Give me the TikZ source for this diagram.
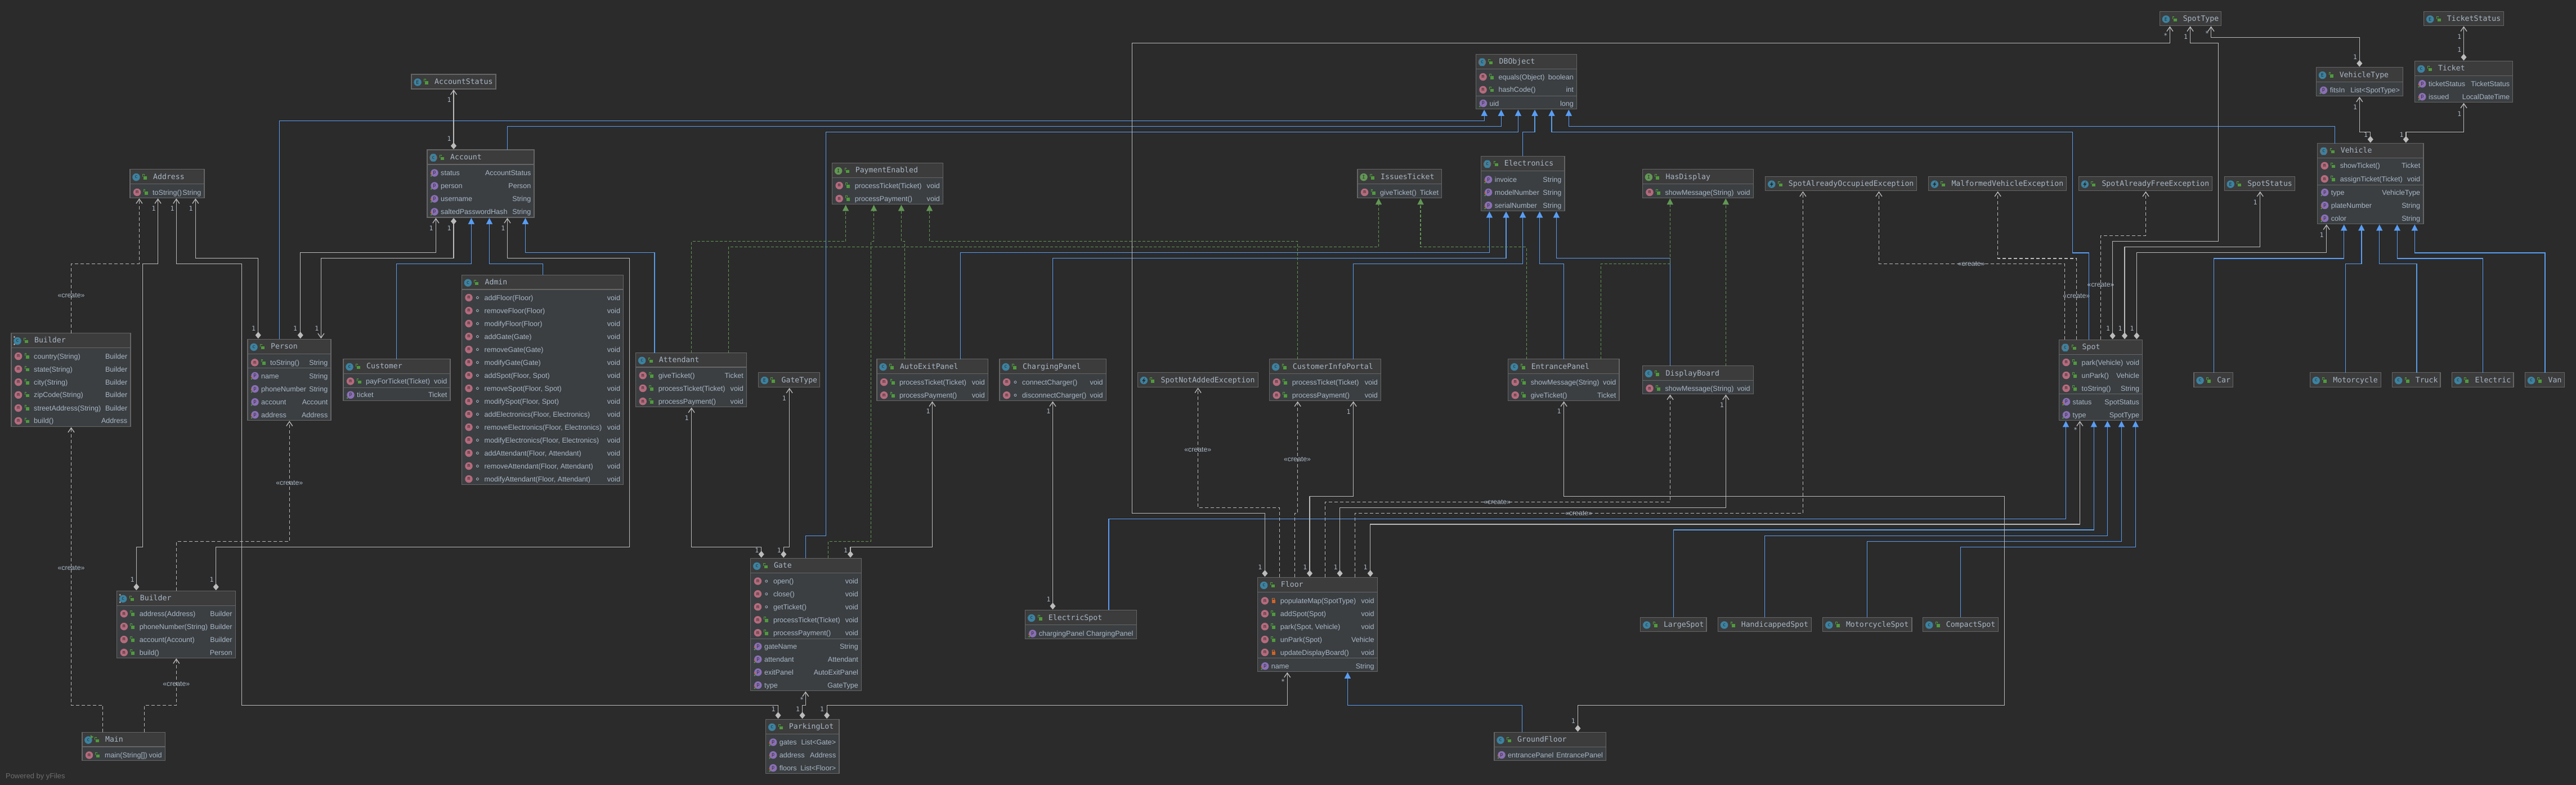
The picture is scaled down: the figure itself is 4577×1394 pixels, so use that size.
\documentclass[tikz,border=0pt]{standalone}
\usepackage{fontspec}
\setmainfont{Liberation Sans}
\setmonofont{DejaVu Sans Mono}
\usetikzlibrary{arrows.meta}
\definecolor{fond}{HTML}{2B2B2B}
\definecolor{entete}{HTML}{3C3C3C}
\definecolor{corps}{HTML}{3B3F42}
\definecolor{bord}{HTML}{666666}
\definecolor{texte}{HTML}{A9B7C6}
\definecolor{clair}{HTML}{BBBBBB}
\definecolor{bleu}{HTML}{589DF6}
\definecolor{vert}{HTML}{629755}
\definecolor{vertc}{HTML}{4F9A3C}
\definecolor{orange}{HTML}{D0642A}
\definecolor{teal}{HTML}{3C82A0}
\definecolor{rose}{HTML}{B56B7D}
\definecolor{violet}{HTML}{8A6FB5}
\definecolor{gris}{HTML}{6E6E6E}
\newcount\nbNoeud

\begin{document}
\begin{tikzpicture}[x=1pt,y=-1pt]
    % Styles
    \tikzstyle{classe}=[draw=bord,line width=1.2pt,fill=corps,rectangle,inner sep=0pt,outer sep=0pt,anchor=north west]
    \tikzstyle{titre}=[text=texte,font=\ttfamily\fontsize{13.2}{13.2}\selectfont,inner sep=0pt,anchor=base west]
    \tikzstyle{membre}=[text=texte,font=\fontsize{12.6}{12.6}\selectfont,inner sep=0pt,anchor=base west]
    \tikzstyle{genre}=[text=texte,font=\fontsize{12.6}{12.6}\selectfont,inner sep=0pt,anchor=base east]
    \tikzstyle{icone}=[circle,inner sep=0pt,minimum size=13.5pt,text=fond,font=\ttfamily\fontsize{8.5}{8.5}\selectfont]
    \tikzstyle{mult}=[text=texte,font=\ttfamily\fontsize{11.5}{11.5}\selectfont,inner sep=0pt]
    \tikzstyle{cree}=[text=texte,font=\fontsize{12.3}{12.3}\selectfont,inner sep=0pt]
    \tikzstyle{signature}=[text=gris,font=\fontsize{12.9}{12.9}\selectfont,inner sep=0pt,anchor=base west]
    \tikzstyle{heritage}=[-{Triangle[length=11pt,width=11pt]},draw=bleu,line width=1.4pt,shorten >=1pt]
    \tikzstyle{realise}=[-{Triangle[length=11pt,width=11pt]},draw=vert,line width=1.3pt,shorten >=1pt,dash pattern=on 5pt off 3pt]
    \tikzstyle{depend}=[-{Straight Barb[length=8pt,width=11pt]},draw=clair,line width=1.3pt,shorten >=1pt,dash pattern=on 6pt off 4pt]
    \tikzstyle{compose}=[{Diamond[length=12pt,width=10pt]}-{Straight Barb[length=8pt,width=11pt]},draw=clair,line width=1.3pt,shorten >=1pt,shorten <=1pt]
    % Macros
    \def\suivant{\global\advance\nbNoeud by 1 }
    \def\iconeC#1#2{\suivant\node[icone,fill=teal] (i\the\nbNoeud) at (#1,#2) {c};}
    \def\iconeA#1#2{\suivant\node[icone,fill=gris] (i\the\nbNoeud) at (#1,#2) {};
        \fill[teal,rounded corners=2pt] (#1-4.5,#2-6.7) rectangle (#1+4.5,#2+6.7);
        \suivant\node[icone,minimum size=0pt] (i\the\nbNoeud) at (#1,#2) {c};}
    \def\iconeE#1#2{\suivant\node[icone,fill=teal] (i\the\nbNoeud) at (#1,#2) {E};}
    \def\iconeI#1#2{\suivant\node[icone,fill=vert] (i\the\nbNoeud) at (#1,#2) {I};}
    \def\iconeX#1#2{\suivant\node[icone,fill=teal] (i\the\nbNoeud) at (#1,#2) {};
        \fill[fond] (#1+1.5,#2-5) -- (#1-3.2,#2+1) -- (#1-.4,#2+1) -- (#1-1.5,#2+5) -- (#1+3.2,#2-1) -- (#1+.4,#2-1) -- cycle;}
    \def\iconeB#1#2{\iconeC{#1}{#2}
        \fill[clair] (#1-5.5,#2-7) circle (1.5) (#1-5.5,#2+6) circle (1.5);}
    \def\iconeM#1#2{\iconeC{#1}{#2}
        \fill[vertc] (#1+4,#2-9) -- (#1+9,#2-5.5) -- (#1+4,#2-2) -- cycle;}
    \def\pub#1#2{\draw[vertc,line width=1pt] (#1-4,#2-.5) -- (#1-4,#2-5) -- (#1-1.2,#2-5) -- (#1-1.2,#2-3);
        \fill[vertc] (#1-2.5,#2-1.5) rectangle (#1+3.5,#2+4);}
    \def\pac#1#2{\draw[texte,line width=.8pt] (#1,#2) circle (2);}
    \def\pri#1#2{\draw[orange,line width=1pt] (#1-2,#2-1) -- (#1-2,#2-4.5) -- (#1+2,#2-4.5) -- (#1+2,#2-1);
        \fill[orange] (#1-3.2,#2-1.5) rectangle (#1+3.2,#2+4.5);}
    \def\og#1#2{\fill[orange] (#1-6,#2+1.5) circle (1.5);\fill[vertc] (#1-6,#2+5.5) circle (1.5);}
    \def\g#1#2{\fill[vertc] (#1-6,#2+5.5) circle (1.5);}
    % nom, icone, gauche, haut, droite, bas, bas de l'entete, titre
    \def\classe#1#2#3#4#5#6#7#8{%
        \xdef\gL{#3}\xdef\gR{#5}%
        \pgfmathsetmacro\cy{(#4+#7)/2+1}%
        \node[classe,minimum width={(#5-#3)*1pt},minimum height={(#6-#4)*1pt}] (#1) at (#3,#4) {};
        \fill[entete] (#3+.5,#4+.5) rectangle (#5-.5,#7);
        \draw[bord,line width=1.2pt] (#3,#7) -- (#5,#7);
        \draw[bord,line width=1.2pt] (#1.north west) rectangle (#1.south east);
        \csname icone#2\endcsname{#3+11}{\cy}
        \pub{#3+26.5}{\cy}
        \suivant\node[titre] (t\the\nbNoeud) at (#3+41,\cy+3.5) {#8};}
    \def\sep#1{\draw[bord,line width=1.2pt] (\gL,#1) -- (\gR,#1);}
    \def\meth#1#2#3#4{%
        \suivant\node[icone,fill=rose] (i\the\nbNoeud) at (\gL+12.6,#1) {m};
        \csname #2\endcsname{\gL+28}{#1}
        \suivant\node[membre] (t\the\nbNoeud) at (\gL+40,#1+4.6) {#3};
        \suivant\node[genre] (t\the\nbNoeud) at (\gR-5.5,#1+4.6) {#4};}
    \def\prop#1#2#3#4{%
        \suivant\node[icone,fill=violet] (i\the\nbNoeud) at (\gL+13,#1) {p};
        \csname #2\endcsname{\gL+13}{#1}
        \suivant\node[membre] (t\the\nbNoeud) at (\gL+24,#1+4.6) {#3};
        \suivant\node[genre] (t\the\nbNoeud) at (\gR-5.5,#1+4.6) {#4};}
    \def\nb#1#2#3{\suivant\node[mult] (x\the\nbNoeud) at (#1,#2) {#3};}
    \def\creation#1#2{\suivant\node[cree] (c\the\nbNoeud) at (#1,#2) {«create»};}
    % Fond
    \fill[fond] (0,0) rectangle (4577,1394);
    \useasboundingbox (0,0) rectangle (4577,1394);
    % Classes
    \classe{AccountStatus}{E}{731}{132}{881}{158}{158}{AccountStatus}
    \classe{Account}{A}{759}{266}{949}{386}{292}{Account}
    \prop{307}{og}{status}{AccountStatus}
    \prop{330}{g}{person}{Person}
    \prop{353}{og}{username}{String}
    \prop{376}{og}{saltedPasswordHash}{String}
    \classe{Address}{C}{231}{300.4}{363}{351.3}{326.8}{Address}
    \meth{341.5}{pub}{toString()}{String}
    \classe{BuilderA}{B}{20}{591.5}{232}{757.6}{617.4}{Builder}
    \meth{632.6}{pub}{country(String)}{Builder}
    \meth{655.4}{pub}{state(String)}{Builder}
    \meth{678.6}{pub}{city(String)}{Builder}
    \meth{701.3}{pub}{zipCode(String)}{Builder}
    \meth{724.6}{pub}{streetAddress(String)}{Builder}
    \meth{747.3}{pub}{build()}{Address}
    \classe{Person}{C}{440}{602.2}{588}{746.4}{628.6}{Person}
    \meth{643.8}{pub}{toString()}{String}
    \sep{653.6}
    \prop{667.4}{og}{name}{String}
    \prop{690.6}{og}{phoneNumber}{String}
    \prop{713.8}{g}{account}{Account}
    \prop{736.6}{og}{address}{Address}
    \classe{Customer}{C}{610}{637.5}{800}{711.6}{663.4}{Customer}
    \meth{677}{pub}{payForTicket(Ticket)}{void}
    \sep{688.4}
    \prop{701.3}{g}{ticket}{Ticket}
    \classe{Admin}{C}{820.4}{488.4}{1107.7}{860.7}{514}{Admin}
    \meth{528.6}{pac}{addFloor(Floor)}{void}
    \meth{551.6}{pac}{removeFloor(Floor)}{void}
    \meth{574.6}{pac}{modifyFloor(Floor)}{void}
    \meth{597.6}{pac}{addGate(Gate)}{void}
    \meth{620.6}{pac}{removeGate(Gate)}{void}
    \meth{643.6}{pac}{modifyGate(Gate)}{void}
    \meth{666.6}{pac}{addSpot(Floor, Spot)}{void}
    \meth{689.6}{pac}{removeSpot(Floor, Spot)}{void}
    \meth{712.6}{pac}{modifySpot(Floor, Spot)}{void}
    \meth{735.6}{pac}{addElectronics(Floor, Electronics)}{void}
    \meth{758.6}{pac}{removeElectronics(Floor, Electronics)}{void}
    \meth{781.6}{pac}{modifyElectronics(Floor, Electronics)}{void}
    \meth{804.6}{pac}{addAttendant(Floor, Attendant)}{void}
    \meth{827.6}{pac}{removeAttendant(Floor, Attendant)}{void}
    \meth{850.6}{pac}{modifyAttendant(Floor, Attendant)}{void}
    \classe{Attendant}{C}{1129.6}{626.5}{1326.5}{722.6}{652}{Attendant}
    \meth{666.7}{pub}{giveTicket()}{Ticket}
    \meth{689.5}{pub}{processTicket(Ticket)}{void}
    \meth{712.7}{pub}{processPayment()}{void}
    \classe{GateType}{E}{1347.4}{661.3}{1456.6}{687.8}{687.8}{GateType}
    \classe{PaymentEnabled}{I}{1478.6}{289.3}{1675.5}{362.7}{315.6}{PaymentEnabled}
    \meth{329.5}{pub}{processTicket(Ticket)}{void}
    \meth{352.7}{pub}{processPayment()}{void}
    \classe{AutoExitPanel}{C}{1558}{637.5}{1755.6}{711.6}{663.8}{AutoExitPanel}
    \meth{678.6}{pub}{processTicket(Ticket)}{void}
    \meth{701.8}{pub}{processPayment()}{void}
    \classe{ChargingPanel}{C}{1776}{637.5}{1965.3}{711.6}{663.8}{ChargingPanel}
    \meth{678.6}{pac}{connectCharger()}{void}
    \meth{701.8}{pac}{disconnectCharger()}{void}
    \classe{SpotNotAddedException}{X}{2021.4}{661.6}{2235.7}{687.5}{687.5}{SpotNotAddedException}
    \classe{CustomerInfoPortal}{C}{2255.6}{637.5}{2453.6}{711.6}{663.8}{CustomerInfoPortal}
    \meth{678.6}{pub}{processTicket(Ticket)}{void}
    \meth{701.8}{pub}{processPayment()}{void}
    \classe{DBObject}{A}{2622.4}{96.4}{2801.5}{193.8}{122.3}{DBObject}
    \meth{136.6}{pub}{equals(Object)}{boolean}
    \meth{159.4}{pub}{hashCode()}{int}
    \sep{170.5}
    \prop{183.5}{g}{uid}{long}
    \classe{IssuesTicket}{I}{2412}{300.4}{2561.7}{351.3}{326.8}{IssuesTicket}
    \meth{341.5}{pub}{giveTicket()}{Ticket}
    \classe{Electronics}{A}{2631.6}{277.2}{2780}{374.5}{303.6}{Electronics}
    \prop{318.8}{og}{invoice}{String}
    \prop{341.5}{og}{modelNumber}{String}
    \prop{364.7}{og}{serialNumber}{String}
    \classe{HasDisplay}{I}{2918.4}{300.4}{3115.3}{351.3}{326.8}{HasDisplay}
    \meth{341.5}{pub}{showMessage(String)}{void}
    \classe{EntrancePanel}{C}{2679.6}{637.5}{2877}{711.6}{663.8}{EntrancePanel}
    \meth{678.6}{pub}{showMessage(String)}{void}
    \meth{701.8}{pub}{giveTicket()}{Ticket}
    \classe{DisplayBoard}{C}{2918.4}{649.6}{3115.3}{699.6}{675.4}{DisplayBoard}
    \meth{689.7}{pub}{showMessage(String)}{void}
    \classe{SpotAlreadyOccupied}{X}{3136.7}{313.4}{3405.4}{338.8}{338.8}{SpotAlreadyOccupiedException}
    \classe{MalformedVehicle}{X}{3426.3}{313.4}{3671.4}{338.8}{338.8}{MalformedVehicleException}
    \classe{SpotAlreadyFree}{X}{3693.3}{313.4}{3930.7}{338.8}{338.8}{SpotAlreadyFreeException}
    \classe{SpotStatus}{E}{3952.2}{313.4}{4077.5}{338.8}{338.8}{SpotStatus}
    \classe{SpotType}{E}{3837.5}{20.6}{3946.6}{45.5}{45.5}{SpotType}
    \classe{TicketStatus}{E}{4306.7}{20.6}{4448.8}{45.5}{45.5}{TicketStatus}
    \classe{VehicleType}{E}{4115.5}{119.6}{4269.6}{170.8}{145.5}{VehicleType}
    \prop{160.3}{g}{fitsIn}{List<SpotType>}
    \classe{Ticket}{C}{4290.8}{108.6}{4464.8}{181.8}{134.4}{Ticket}
    \prop{148.8}{og}{ticketStatus}{TicketStatus}
    \prop{171.8}{og}{issued}{LocalDateTime}
    \classe{Vehicle}{A}{4117.6}{254.5}{4305.9}{397.6}{280.4}{Vehicle}
    \meth{294.3}{pub}{showTicket()}{Ticket}
    \meth{317.7}{pub}{assignTicket(Ticket)}{void}
    \sep{328.7}
    \prop{341.6}{g}{type}{VehicleType}
    \prop{364.6}{og}{plateNumber}{String}
    \prop{387.6}{og}{color}{String}
    \classe{Spot}{A}{3658.5}{603.3}{3806.7}{746.4}{629.2}{Spot}
    \meth{643.5}{pub}{park(Vehicle)}{void}
    \meth{666.5}{pub}{unPark()}{Vehicle}
    \meth{689.5}{pub}{toString()}{String}
    \sep{699.5}
    \prop{713.4}{og}{status}{SpotStatus}
    \prop{736.8}{g}{type}{SpotType}
    \classe{Car}{C}{3898}{661.7}{3967.8}{687.6}{687.6}{Car}
    \classe{Motorcycle}{C}{4104.2}{661.7}{4230.3}{687.6}{687.6}{Motorcycle}
    \classe{Truck}{C}{4250.6}{661.7}{4336}{687.6}{687.6}{Truck}
    \classe{Electric}{C}{4356.4}{661.7}{4466}{687.6}{687.6}{Electric}
    \classe{Van}{C}{4486.4}{661.7}{4556.3}{687.6}{687.6}{Van}
    \classe{BuilderP}{B}{207.7}{1049.2}{418.4}{1168.2}{1075.4}{Builder}
    \meth{1089.8}{pub}{address(Address)}{Builder}
    \meth{1112.5}{pub}{phoneNumber(String)}{Builder}
    \meth{1135.6}{pub}{account(Account)}{Builder}
    \meth{1158.7}{pub}{build()}{Person}
    \classe{Main}{M}{145.9}{1300.4}{293.4}{1350.4}{1326}{Main}
    \meth{1341}{pub}{main(String[])}{void}
    \classe{Gate}{C}{1333.8}{991.3}{1530.6}{1226.7}{1017.3}{Gate}
    \meth{1032}{pac}{open()}{void}
    \meth{1054.7}{pac}{close()}{void}
    \meth{1077.7}{pac}{getTicket()}{void}
    \meth{1100.7}{pub}{processTicket(Ticket)}{void}
    \meth{1123.7}{pub}{processPayment()}{void}
    \sep{1134.3}
    \prop{1148}{og}{gateName}{String}
    \prop{1170.7}{og}{attendant}{Attendant}
    \prop{1193.7}{og}{exitPanel}{AutoExitPanel}
    \prop{1216.7}{og}{type}{GateType}
    \classe{ParkingLot}{C}{1360.7}{1277.3}{1491}{1373.3}{1303.3}{ParkingLot}
    \prop{1318}{og}{gates}{List<Gate>}
    \prop{1340.7}{og}{address}{Address}
    \prop{1363.7}{og}{floors}{List<Floor>}
    \classe{ElectricSpot}{C}{1821.7}{1083.3}{2019.2}{1134.7}{1109.7}{ElectricSpot}
    \prop{1125}{og}{chargingPanel}{ChargingPanel}
    \classe{Floor}{C}{2234.7}{1025.2}{2447.4}{1192.8}{1051.6}{Floor}
    \meth{1066.9}{pri}{populateMap(SpotType)}{void}
    \meth{1089.8}{pub}{addSpot(Spot)}{void}
    \meth{1112.7}{pub}{park(Spot, Vehicle)}{void}
    \meth{1135.6}{pub}{unPark(Spot)}{Vehicle}
    \meth{1158.5}{pri}{updateDisplayBoard()}{void}
    \sep{1168.5}
    \prop{1182.8}{og}{name}{String}
    \classe{GroundFloor}{C}{2655}{1300.4}{2853.6}{1350.7}{1326.4}{GroundFloor}
    \prop{1340.6}{og}{entrancePanel}{EntrancePanel}
    \classe{LargeSpot}{C}{2914.8}{1096.2}{3032}{1121.7}{1121.7}{LargeSpot}
    \classe{HandicappedSpot}{C}{3052.6}{1096.2}{3218.4}{1121.7}{1121.7}{HandicappedSpot}
    \classe{MotorcycleSpot}{C}{3238.8}{1096.2}{3397}{1121.7}{1121.7}{MotorcycleSpot}
    \classe{CompactSpot}{C}{3416.7}{1096.2}{3550.6}{1121.7}{1121.7}{CompactSpot}
    \suivant\node[signature] (s\the\nbNoeud) at (10,1382) {Powered by yFiles};
    % Arcs : heritage
    \draw[heritage] (496.4,0 |- Person.north) |- (2637.2,214.5) -- (2637.2,0 |- DBObject.south);
    \draw[heritage] (901.3,0 |- Account.north) |- (2667.3,224.5) -- (2667.3,0 |- DBObject.south);
    \draw[heritage] (1431.3,0 |- Gate.north) |- (1467.5,951.3) |- (2697.4,234.4) -- (2697.4,0 |- DBObject.south);
    \draw[heritage] (2705.6,0 |- Electronics.north) |- (2727,234.4) -- (2727,0 |- DBObject.south);
    \draw[heritage] (3711.6,0 |- Spot.north) |- (3682.6,448.8) |- (2757,234.4) -- (2757,0 |- DBObject.south);
    \draw[heritage] (4148.7,0 |- Vehicle.north) |- (2787.3,224.5) -- (2787.3,0 |- DBObject.south);
    \draw[heritage] (704.6,0 |- Customer.north) |- (837.4,468.2) -- (837.4,0 |- Account.south);
    \draw[heritage] (964.3,0 |- Admin.north) |- (869.5,468.2) -- (869.5,0 |- Account.south);
    \draw[heritage] (1162.8,0 |- Attendant.north) |- (933.5,448.6) -- (933.5,0 |- Account.south);
    \draw[heritage] (1706.6,0 |- AutoExitPanel.north) |- (2646.4,448.7) -- (2646.4,0 |- Electronics.south);
    \draw[heritage] (1870.4,0 |- ChargingPanel.north) |- (2676,458.5) -- (2676,0 |- Electronics.south);
    \draw[heritage] (2404.6,0 |- CustomerInfoPortal.north) |- (2705.6,468.3) -- (2705.6,0 |- Electronics.south);
    \draw[heritage] (2778.6,0 |- EntrancePanel.north) |- (2735.7,468.3) -- (2735.7,0 |- Electronics.south);
    \draw[heritage] (2967.3,0 |- DisplayBoard.north) |- (2765.3,458.5) -- (2765.3,0 |- Electronics.south);
    \draw[heritage] (2704.6,0 |- GroundFloor.north) |- (2394.4,1252.5) -- (2394.4,0 |- Floor.south);
    \draw[heritage] (1969.8,0 |- ElectricSpot.north) |- (3670.5,921.4) -- (3670.5,0 |- Spot.south);
    \draw[heritage] (2973.5,0 |- LargeSpot.north) |- (3720.3,941) -- (3720.3,0 |- Spot.south);
    \draw[heritage] (3135.5,0 |- HandicappedSpot.north) |- (3744.5,951.2) -- (3744.5,0 |- Spot.south);
    \draw[heritage] (3317.2,0 |- MotorcycleSpot.north) |- (3769.4,961.5) -- (3769.4,0 |- Spot.south);
    \draw[heritage] (3483.7,0 |- CompactSpot.north) |- (3794.3,971.4) -- (3794.3,0 |- Spot.south);
    \draw[heritage] (3933.2,0 |- Car.north) |- (4164.7,458.9) -- (4164.7,0 |- Vehicle.south);
    \draw[heritage] (4167.3,0 |- Motorcycle.north) |- (4195.8,468.4) -- (4195.8,0 |- Vehicle.south);
    \draw[heritage] (4293.8,0 |- Truck.north) |- (4227.7,468.4) -- (4227.7,0 |- Vehicle.south);
    \draw[heritage] (4411.7,0 |- Electric.north) |- (4259.2,458.9) -- (4259.2,0 |- Vehicle.south);
    \draw[heritage] (4521.8,0 |- Van.north) |- (4290.3,448.8) -- (4290.3,0 |- Vehicle.south);
    % Arcs : interfaces
    \draw[realise] (1228.6,0 |- Attendant.north) |- (1502.6,428.4) -- (1502.6,0 |- PaymentEnabled.south);
    \draw[realise] (1294.4,0 |- Attendant.north) |- (2449.5,438.5) -- (2449.5,0 |- IssuesTicket.south);
    \draw[realise] (1471.5,0 |- Gate.north) |- (1547.4,961.3) |- (1552.6,428.4) -- (1552.6,0 |- PaymentEnabled.south);
    \draw[realise] (1607.6,0 |- AutoExitPanel.north) |- (1601.5,428.5) -- (1601.5,0 |- PaymentEnabled.south);
    \draw[realise] (2305.6,0 |- CustomerInfoPortal.north) |- (1651.5,428.5) -- (1651.5,0 |- PaymentEnabled.south);
    \draw[realise] (2712.2,0 |- EntrancePanel.north) |- (2524,438.4) -- (2524,0 |- IssuesTicket.south);
    \draw[realise] (2844.4,0 |- EntrancePanel.north) |- (2967.3,468.3) -- (2967.3,0 |- HasDisplay.south);
    \draw[realise] (3066.3,0 |- DisplayBoard.north) -- (3066.3,0 |- HasDisplay.south);
    % Arcs : creations
    \draw[depend] (126.5,0 |- BuilderA.north) |- (247.4,468.3) -- (247.4,0 |- Address.south);
    \draw[depend] (182.7,0 |- Main.north) |- (126.5,1252.3) -- (126.5,0 |- BuilderA.south);
    \draw[depend] (256.6,0 |- Main.north) |- (313.3,1252.3) -- (313.3,0 |- BuilderP.south);
    \draw[depend] (313.3,0 |- BuilderP.north) |- (514.3,961.4) -- (514.3,0 |- Person.south);
    \draw[depend] (2273.5,0 |- Floor.north) |- (2128.6,901.4) -- (2128.6,0 |- SpotNotAddedException.south);
    \draw[depend] (2300.5,0 |- Floor.north) |- (2305.6,911.4) -- (2305.6,0 |- CustomerInfoPortal.south);
    \draw[depend] (2354.6,0 |- Floor.north) |- (2967.5,891.3) -- (2967.5,0 |- DisplayBoard.south);
    \draw[depend] (2407.7,0 |- Floor.north) |- (3203.4,911.4) -- (3203.4,0 |- SpotAlreadyOccupied.south);
    \draw[depend] (3668.3,0 |- Spot.north) |- (3338.4,468.4) -- (3338.4,0 |- SpotAlreadyOccupied.south);
    \draw[depend] (3689.3,0 |- Spot.north) |- (3549.6,458.9) -- (3549.6,0 |- MalformedVehicle.south);
    \draw[depend] (3732.6,0 |- Spot.north) |- (3812.5,418.7) -- (3812.5,0 |- SpotAlreadyFree.south);
    % Arcs : compositions
    \draw[compose] (458.7,0 |- Person.north) |- (347.4,458.5) -- (347.4,0 |- Address.south);
    \draw[compose] (533.7,0 |- Person.north) |- (774.4,448.7) -- (774.4,0 |- Account.south);
    \draw[compose] (806,0 |- Account.south) |- (570.4,458.5) -- (570.4,0 |- Person.north);
    \draw[compose] (806,0 |- Account.north) -- (806,0 |- AccountStatus.south);
    \draw[compose] (242.3,0 |- BuilderP.north) |- (253.6,971.2) |- (280.6,468.3) -- (280.6,0 |- Address.south);
    \draw[compose] (383.7,0 |- BuilderP.north) |- (1118.4,971.2) |- (901.5,458.5) -- (901.5,0 |- Account.south);
    \draw[compose] (1382.5,0 |- ParkingLot.north) |- (429.6,1252.3) |- (313.3,468.3) -- (313.3,0 |- Address.south);
    \draw[compose] (1425.6,0 |- ParkingLot.north) |- (1431.3,1252.3) -- (1431.3,0 |- Gate.south);
    \draw[compose] (1469.2,0 |- ParkingLot.north) |- (2287.2,1252.4) -- (2287.2,0 |- Floor.south);
    \draw[compose] (1352.7,0 |- Gate.north) |- (1228.6,971.3) -- (1228.6,0 |- Attendant.south);
    \draw[compose] (1392.3,0 |- Gate.north) |- (1402.6,971.3) -- (1402.6,0 |- GateType.south);
    \draw[compose] (1511,0 |- Gate.north) |- (1656.5,971.3) -- (1656.5,0 |- AutoExitPanel.south);
    \draw[compose] (1870.5,0 |- ElectricSpot.north) -- (1870.5,0 |- ChargingPanel.south);
    \draw[compose] (2247.4,0 |- Floor.north) |- (2011.7,911.4) |- (3855.4,76.4) -- (3855.4,0 |- SpotType.south);
    \draw[compose] (2327,0 |- Floor.north) |- (2404.6,881.2) -- (2404.6,0 |- CustomerInfoPortal.south);
    \draw[compose] (2380.6,0 |- Floor.north) |- (3066.4,901.3) -- (3066.4,0 |- DisplayBoard.south);
    \draw[compose] (2434.7,0 |- Floor.north) |- (3695.4,931.1) -- (3695.4,0 |- Spot.south);
    \draw[compose] (2803.4,0 |- GroundFloor.north) |- (3561.5,1252.3) |- (2778.6,881.4) -- (2778.6,0 |- EntrancePanel.south);
    \draw[compose] (3753.6,0 |- Spot.north) |- (3941.5,428.7) |- (3891.5,76.6) -- (3891.5,0 |- SpotType.south);
    \draw[compose] (3775,0 |- Spot.north) |- (4015.7,438.8) -- (4015.7,0 |- SpotStatus.south);
    \draw[compose] (3796.4,0 |- Spot.north) |- (4133.6,448.8) -- (4133.6,0 |- Vehicle.south);
    \draw[compose] (4192.3,0 |- VehicleType.north) |- (3928.5,66.5) -- (3928.5,0 |- SpotType.south);
    \draw[compose] (4211.7,0 |- Vehicle.north) |- (4192.3,234.4) -- (4192.3,0 |- VehicleType.south);
    \draw[compose] (4274.8,0 |- Vehicle.north) |- (4377.5,234.4) -- (4377.5,0 |- Ticket.south);
    \draw[compose] (4377.5,0 |- Ticket.north) -- (4377.5,0 |- TicketStatus.south);
    % Etiquettes
    \creation{126.5}{524.6}
    \creation{126.5}{1009}
    \creation{313.3}{1215}
    \creation{514.3}{858}
    \creation{2128.3}{799}
    \creation{2305}{815.7}
    \creation{2660.2}{891.3}
    \creation{2805}{911.4}
    \creation{3502.7}{468.4}
    \creation{3689.3}{526}
    \creation{3732.6}{506}
    \nb{273}{370.5}{1}
    \nb{306}{370.5}{1}
    \nb{339}{370.5}{1}
    \nb{450.5}{583.5}{1}
    \nb{524.5}{583.5}{1}
    \nb{562.8}{583.5}{1}
    \nb{766}{405.7}{1}
    \nb{798}{405.7}{1}
    \nb{893.7}{405.7}{1}
    \nb{798}{246.7}{1}
    \nb{798}{177.7}{1}
    \nb{235}{1029.5}{1}
    \nb{376}{1029.5}{1}
    \nb{1220}{742.5}{1}
    \nb{1393.4}{706.9}{1}
    \nb{1649}{730.4}{1}
    \nb{1862.8}{730.4}{1}
    \nb{2396}{731}{1}
    \nb{2770}{730.4}{1}
    \nb{3059.2}{719.6}{1}
    \nb{1344.7}{977}{1}
    \nb{1384.3}{977}{1}
    \nb{1502.5}{977}{1}
    \nb{1424.5}{1242.3}{*}
    \nb{1374}{1259.3}{1}
    \nb{1417.6}{1259.3}{1}
    \nb{1460.6}{1259.3}{1}
    \nb{1863}{1064.7}{1}
    \nb{2238.8}{1006.8}{1}
    \nb{2318.9}{1006.8}{1}
    \nb{2373}{1006.8}{1}
    \nb{2426}{1006.8}{1}
    \nb{2279.6}{1209.8}{*}
    \nb{2795.4}{1280.6}{1}
    \nb{3847.8}{63.6}{*}
    \nb{3883.5}{65.6}{1}
    \nb{3921.6}{59.3}{*}
    \nb{4184.5}{101}{1}
    \nb{4184.5}{190}{1}
    \nb{4203.5}{239}{1}
    \nb{4267}{239}{1}
    \nb{4369.8}{202}{1}
    \nb{4369.8}{65.6}{1}
    \nb{4369.8}{88.5}{1}
    \nb{4007}{358.9}{1}
    \nb{4125}{417.7}{1}
    \nb{3745.5}{583.7}{1}
    \nb{3767}{583.7}{1}
    \nb{3788}{583.7}{1}
    \nb{3687.8}{763}{*}
\end{tikzpicture}
\end{document}
